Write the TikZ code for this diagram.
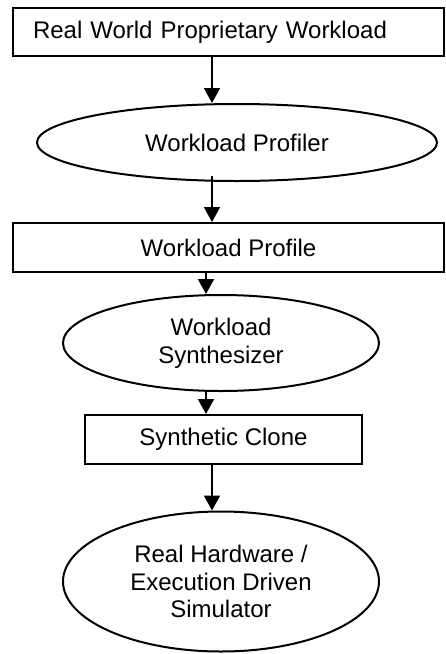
\documentclass[tikz,border=0pt]{standalone}
\usepackage{fontspec}
\setmainfont{Liberation Sans}
\usetikzlibrary{shapes.geometric,arrows.meta}
\begin{document}
\begin{tikzpicture}[x=0.5pt,y=-0.5pt,
    box/.style={draw,line width=1pt,rectangle,inner sep=0pt,font=\fontsize{12}{14}\selectfont},
    oval/.style={draw,line width=1pt,ellipse,inner sep=0pt,align=center,font=\fontsize{12}{13.8}\selectfont},
    arr/.style={line width=1pt,-{Triangle[length=7.5pt,width=8pt]}}]
     \useasboundingbox (0,0) rectangle (445,654);
     \node[box,minimum width=215.5pt,minimum height=24pt,text width=195.5pt,inner xsep=10pt,align=left] (real) at (228.5,32) {Real World Proprietary Workload};
     \node[oval,minimum width=200pt,minimum height=38.5pt] (profiler) at (237,142.5) {Workload Profiler};
     \node[box,minimum width=215.5pt,minimum height=24.5pt] (profile) at (228.5,247.5) {Workload Profile};
     \node[oval,minimum width=158pt,minimum height=48pt] (synth) at (221,343) {Workload\\Synthesizer};
     \node[box,minimum width=138.5pt,minimum height=24.5pt] (clone) at (223.5,439.5) {Synthetic Clone};
     \node[oval,minimum width=158pt,minimum height=70pt] (sim) at (221,581.5) {Real Hardware /\\Execution Driven\\Simulator};
     \draw[arr] ([xshift=-8.25pt]real.south) -- ([xshift=-12.5pt]profiler.north);
     \draw[arr] ([xshift=-12.5pt,yshift=3pt]profiler.south) -- ([xshift=-8.25pt]profile.north);
     \draw[arr] ([xshift=-11.25pt]profile.south) -- ([xshift=-7.5pt]synth.north);
     \draw[arr] ([xshift=-7.5pt]synth.south) -- ([xshift=-8.75pt]clone.north);
     \draw[arr] ([xshift=-5.75pt]clone.south) -- ([xshift=-4.5pt]sim.north);
\end{tikzpicture}
\end{document}
